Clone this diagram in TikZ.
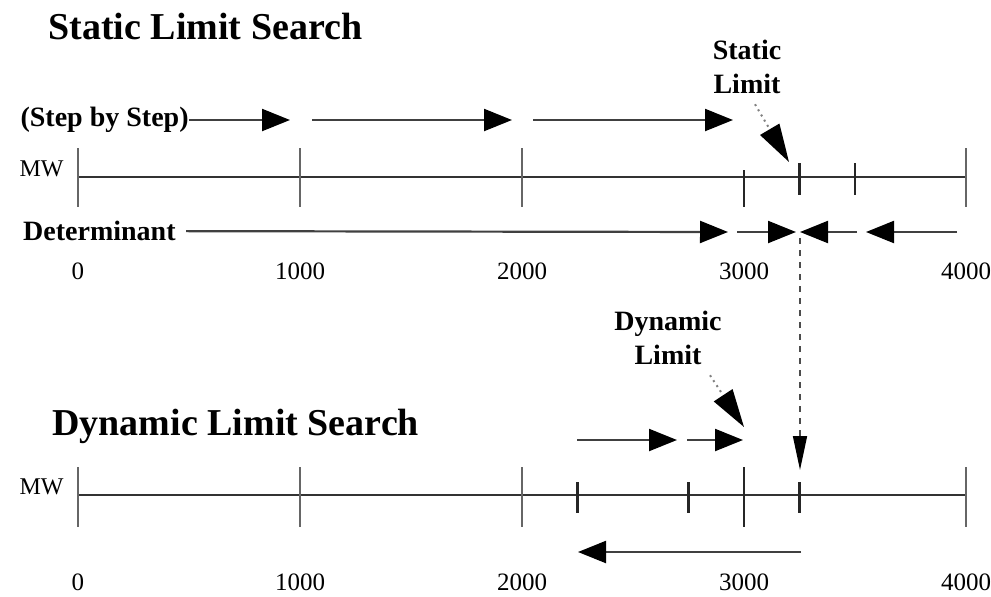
\documentclass[tikz,border=0pt]{standalone}
\usepackage{fontspec}
\setmainfont{Liberation Serif}
\usetikzlibrary{arrows.meta}

\begin{document}
\begin{tikzpicture}[x=0.5pt,y=-0.5pt]
\tikzstyle{axis} = [line width=1.1pt,black!80]
\tikzstyle{tick} = [line width=1.1pt,black!60]
\tikzstyle{arrow} = [line width=1.1pt,black!75,-{Triangle[length=14pt,width=11pt,color=black]}]
\tikzstyle{pointer} = [line width=1pt,dotted,black!50,-{Triangle[length=19pt,width=11pt,color=black]}]
\tikzstyle{drop} = [line width=0.8pt,dashed,black!70,-{Triangle[length=17pt,width=7pt,color=black]}]
\tikzstyle{title} = [inner sep=0pt,font=\fontsize{19}{22}\selectfont\bfseries]
\tikzstyle{tag} = [inner sep=0pt,font=\fontsize{14}{16}\selectfont\bfseries,align=center]
\tikzstyle{num} = [inner sep=0pt,anchor=base,font=\fontsize{12.5}{14}\selectfont]
\tikzstyle{unit} = [inner sep=0pt,anchor=base east,font=\fontsize{12}{13}\selectfont]
\useasboundingbox (0,0) rectangle (991,596);

% static limit search
\node[title,anchor=base west] (statictitle) at (48,39) {Static Limit Search};
\node[unit] (mwtop) at (64,176) {MW};
\coordinate (a0) at (78,177);
\coordinate (a4) at (966,177);
\draw[axis] (a0) -- (a4);
\foreach \v in {0,1000,2000,4000}
  \draw[tick] ({78+0.222*\v},148) -- ++(0,59);
\draw[tick,black!85] (744,170) -- ++(0,37);
\foreach \v in {3250,3500}
  \draw[tick,black!85] ({78+0.222*\v},163) -- ++(0,32);
\foreach \v in {0,1000,2000,3000,4000}
  \node[num] (top-\v) at ({78+0.222*\v},279) {\v};

\node[tag,anchor=east] (step) at (189,120) {(Step by Step)};
\coordinate (s1) at (290,120);
\coordinate (s2) at (312,120);
\coordinate (s3) at (512,120);
\coordinate (s4) at (533,120);
\coordinate (s5) at (733,120);
\draw[arrow] (step) -- (s1);
\draw[arrow] (s2) -- (s3);
\draw[arrow] (s4) -- (s5);

\node[tag,anchor=east] (determ) at (176,231) {Determinant};
\coordinate (d1) at (728,232);
\coordinate (d2) at (737,232);
\coordinate (d3) at (796,232);
\coordinate (d4) at (857,232);
\coordinate (d5) at (800,232);
\coordinate (d6) at (957,232);
\coordinate (d7) at (866,232);
\draw[arrow,shorten <=5pt] (determ) -- (d1);
\draw[arrow] (d2) -- (d3);
\draw[arrow] (d4) -- (d5);
\draw[arrow] (d6) -- (d7);

\node[tag] (staticlimit) at (747,67) {Static\\[1pt]Limit};
\coordinate (sl) at (789,162);
\draw[pointer] (staticlimit.south) ++(8,10) -- (sl);

% dynamic limit search
\node[title,anchor=base west] (dyntitle) at (52,435) {Dynamic Limit Search};
\node[unit] (mwbot) at (64,494) {MW};
\coordinate (b0) at (78,495);
\coordinate (b4) at (966,495);
\draw[axis] (b0) -- (b4);
\foreach \v in {0,1000,2000,4000}
  \draw[tick] ({78+0.222*\v},467) -- ++(0,60);
\draw[tick,black!85] (744,467) -- ++(0,60);
\foreach \v in {2250,2750,3250}
  \draw[tick,black!85] ({78+0.222*\v},482) -- ++(0,31);
\foreach \v in {0,1000,2000,3000,4000}
  \node[num] (bot-\v) at ({78+0.222*\v},590) {\v};

\node[tag] (dynlimit) at (668,338) {Dynamic\\[1pt]Limit};
\coordinate (dl) at (744,427);
\draw[pointer] (dynlimit.south) ++(42,10) -- (dl);

\coordinate (u1) at (577,440);
\coordinate (u2) at (677,440);
\coordinate (u3) at (687,440);
\coordinate (u4) at (743,440);
\draw[arrow] (u1) -- (u2);
\draw[arrow] (u3) -- (u4);

\coordinate (w1) at (801,552);
\coordinate (w2) at (578,552);
\draw[arrow] (w1) -- (w2);

% static limit dropped onto the lower axis
\coordinate (v1) at (800,238);
\coordinate (v2) at (800,470);
\draw[drop] (v1) -- (v2);
\end{tikzpicture}
\end{document}
